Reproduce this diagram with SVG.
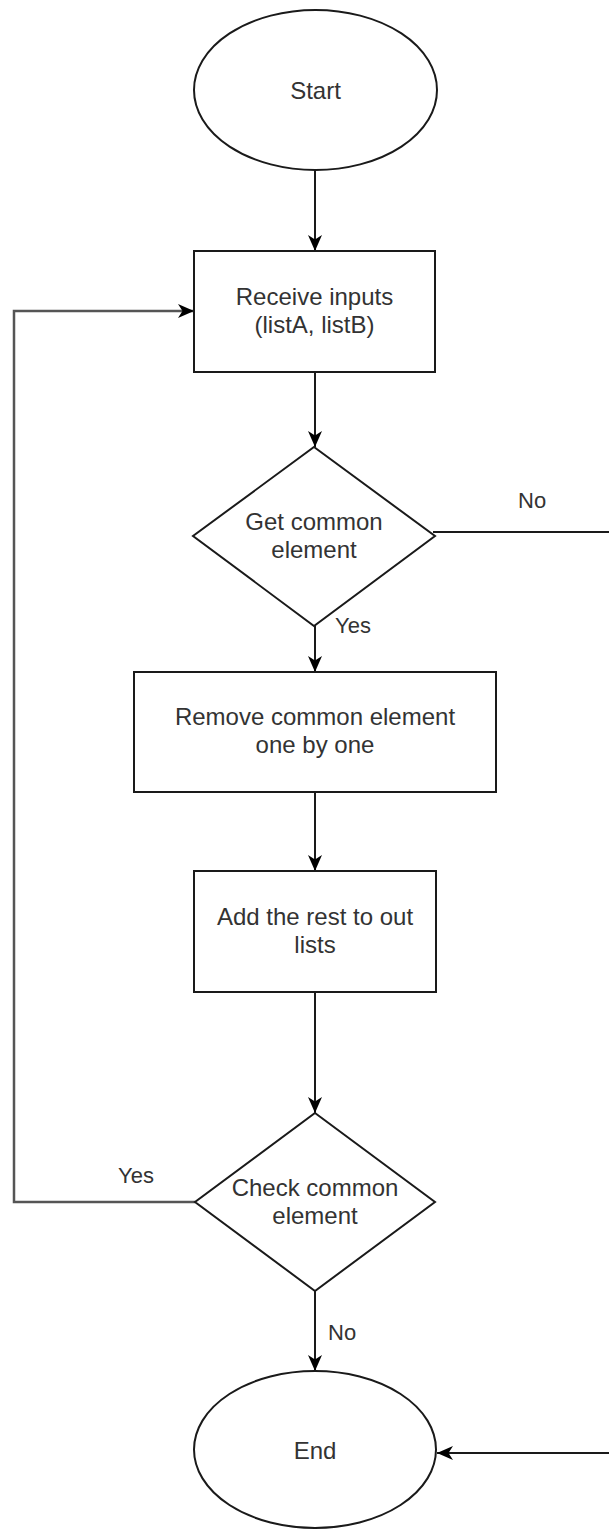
<svg xmlns="http://www.w3.org/2000/svg" width="609" height="1529" viewBox="0 0 609 1529">
  <style>
    .shape { fill: #ffffff; stroke: #1a1a1a; stroke-width: 2; }
    .label { font-family: "Liberation Sans", Arial, sans-serif; font-size: 24px; fill: #333333; text-anchor: middle; }
    .edge-label { font-family: "Liberation Sans", Arial, sans-serif; font-size: 22px; fill: #333333; }
    .edge { fill: none; stroke: #1a1a1a; stroke-width: 2; }
    .edge-loop { fill: none; stroke: #555555; stroke-width: 2.5; }
  </style>
  <defs>
    <marker id="arrow" markerUnits="userSpaceOnUse" markerWidth="18" markerHeight="18" viewBox="0 0 18 18" refX="16" refY="9" orient="auto">
      <path d="M0,2 L16,9 L0,16 L4.5,9 Z" fill="#000000"/>
    </marker>
  </defs>

  <rect width="609" height="1529" fill="#ffffff"/>

  <!-- connectors -->
  <g id="connectors">
    <path class="edge" d="M315,170 L315,251" marker-end="url(#arrow)"/>
    <path class="edge" d="M315,372 L315,447" marker-end="url(#arrow)"/>
    <path class="edge" d="M315,626 L315,672" marker-end="url(#arrow)"/>
    <path class="edge" d="M315,792 L315,871" marker-end="url(#arrow)"/>
    <path class="edge" d="M315,992 L315,1113" marker-end="url(#arrow)"/>
    <path class="edge" d="M315,1291 L315,1371" marker-end="url(#arrow)"/>
    <!-- loop back: Check common element (Yes) to Receive inputs -->
    <path class="edge-loop" d="M195,1202 L14,1202 L14,311 L194,311" marker-end="url(#arrow)"/>
    <!-- Get common element (No) to End, routed past the right edge -->
    <path class="edge" d="M433,532 L625,532 L625,1453 L437,1453" marker-end="url(#arrow)"/>
    <text class="edge-label" x="518" y="508">No</text>
    <text class="edge-label" x="335" y="633">Yes</text>
    <text class="edge-label" x="118" y="1183">Yes</text>
    <text class="edge-label" x="328" y="1340">No</text>
  </g>

  <g id="start">
    <ellipse class="shape" cx="315.5" cy="90" rx="121.5" ry="80"/>
    <text class="label" x="315.5" y="98.5">Start</text>
  </g>

  <g id="receive-inputs">
    <rect class="shape" x="194" y="251" width="241" height="121"/>
    <text class="label" x="314.5" y="305">Receive inputs</text>
    <text class="label" x="314.5" y="333">(listA, listB)</text>
  </g>

  <g id="get-common">
    <polygon class="shape" points="314,447 435,536 314,626 193,536"/>
    <text class="label" x="314" y="530">Get common</text>
    <text class="label" x="314" y="558">element</text>
  </g>

  <g id="remove-common">
    <rect class="shape" x="134" y="672" width="362" height="120"/>
    <text class="label" x="315" y="725">Remove common element</text>
    <text class="label" x="315" y="753">one by one</text>
  </g>

  <g id="add-rest">
    <rect class="shape" x="194" y="871" width="242" height="121"/>
    <text class="label" x="315" y="925">Add the rest to out</text>
    <text class="label" x="315" y="953">lists</text>
  </g>

  <g id="check-common">
    <polygon class="shape" points="315,1113 435,1202 315,1291 195,1202"/>
    <text class="label" x="315" y="1196">Check common</text>
    <text class="label" x="315" y="1224">element</text>
  </g>

  <g id="end">
    <ellipse class="shape" cx="315" cy="1449.5" rx="121" ry="78.5"/>
    <text class="label" x="315" y="1458.5">End</text>
  </g>
</svg>
